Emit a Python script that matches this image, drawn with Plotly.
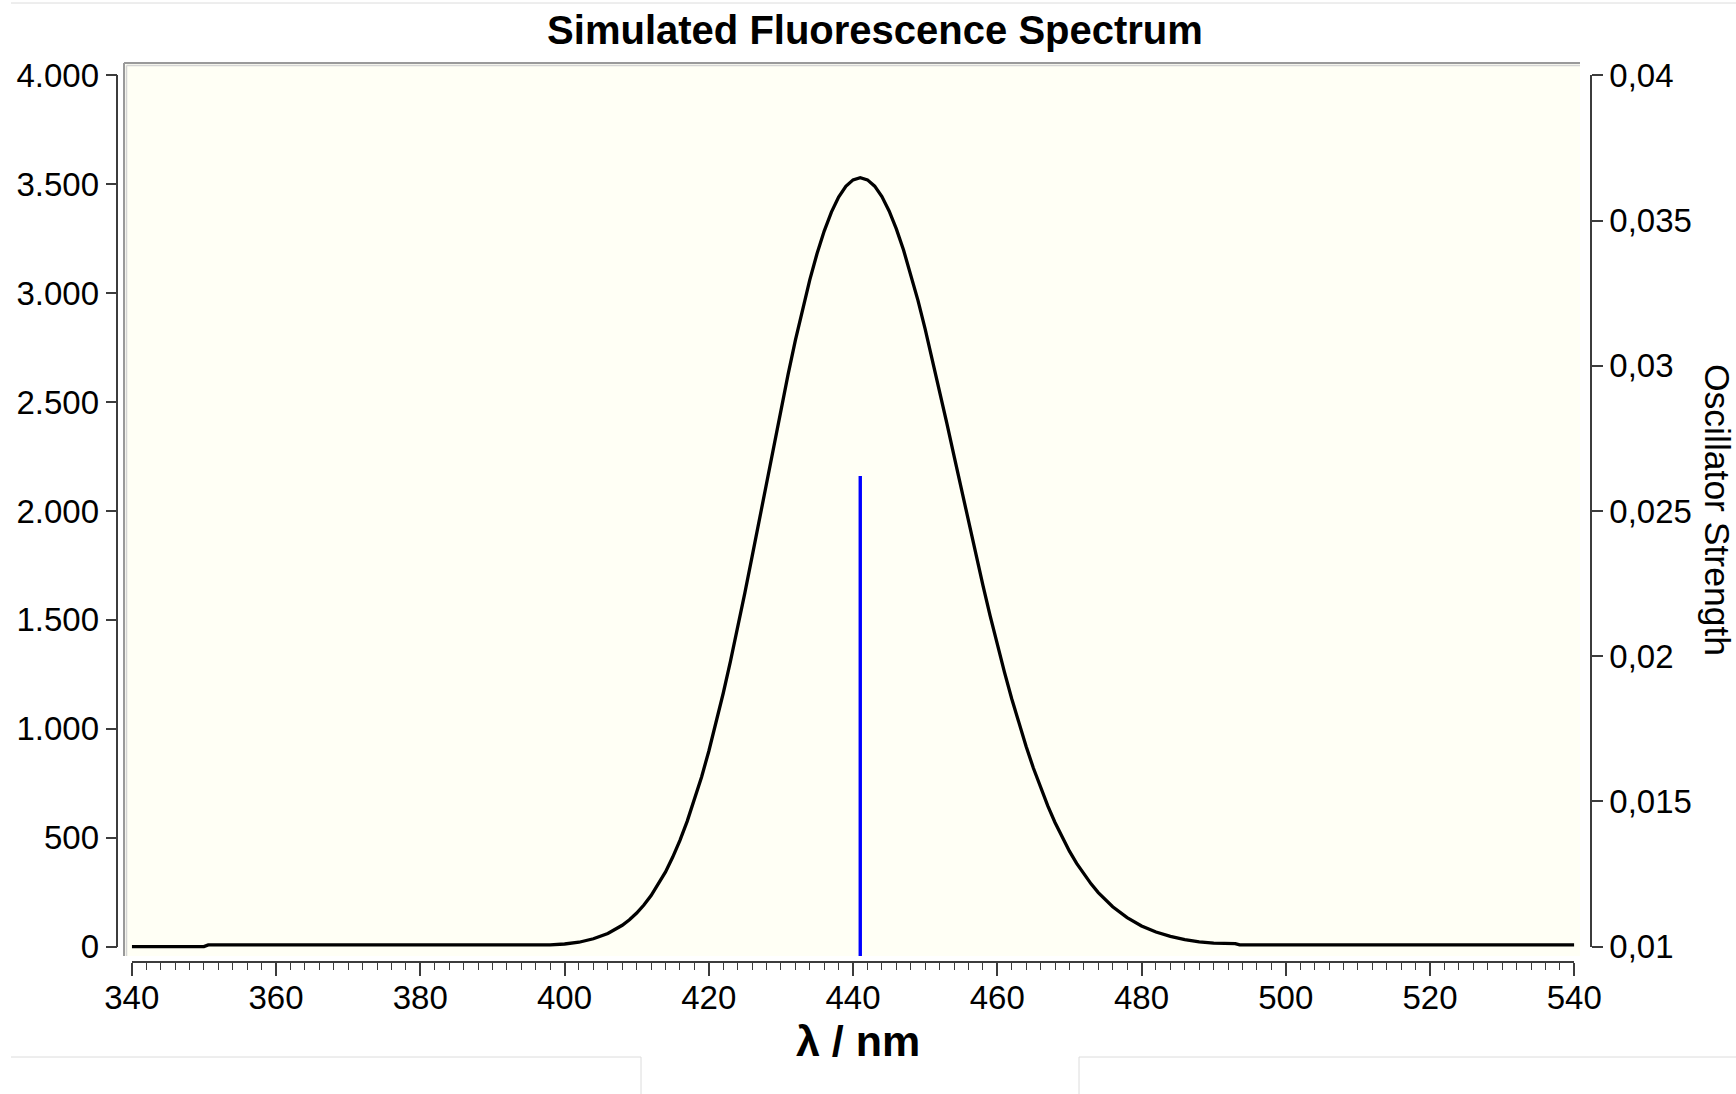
import plotly.graph_objects as go

# ---- spectrum data -------------------------------------------------------
wavelength_nm = [340, 350, 350.6, 396, 398, 400, 402, 404, 406, 408, 409, 410, 411, 412,
                 413, 414, 415, 416, 417, 418, 419, 420, 421, 422, 423, 424, 425, 426,
                 427, 428, 429, 430, 431, 432, 433, 434, 435, 436, 437, 438, 439, 440,
                 441, 442, 443, 444, 445, 446, 447, 448, 449, 450, 451, 452, 453, 454,
                 455, 456, 457, 458, 459, 460, 461, 462, 463, 464, 465, 466, 467, 468,
                 469, 470, 471, 472, 473, 474, 475, 476, 478, 480, 482, 484, 486, 488,
                 490, 492, 493, 493.6, 540]
intensity = [0, 0, 8, 8, 8, 12, 20, 36, 60, 98, 123, 154, 191, 234,
             285, 343, 411, 488, 575, 672, 779, 897, 1025, 1163, 1309, 1463, 1624, 1790,
             1959, 2130, 2299, 2466, 2628, 2783, 2928, 3061, 3181, 3285, 3372, 3441, 3490, 3520,
             3530, 3520, 3491, 3443, 3377, 3295, 3198, 3088, 2967, 2835, 2696, 2552, 2403, 2253,
             2101, 1951, 1804, 1659, 1520, 1386, 1259, 1138, 1025, 919, 820, 729, 646, 570,
             501, 438, 382, 332, 288, 248, 213, 183, 133, 95, 67, 47, 32, 22,
             16, 14, 14, 8, 8]

# excitation sticks (wavelength, oscillator strength)
stick_nm = [441]
stick_f = [0.0262]

# ---- axis ticks ----------------------------------------------------------
x_ticks = [340, 360, 380, 400, 420, 440, 460, 480, 500, 520, 540]
y_ticks = [0, 500, 1000, 1500, 2000, 2500, 3000, 3500, 4000]
y_tick_labels = ["0", "500", "1.000", "1.500", "2.000", "2.500", "3.000", "3.500", "4.000"]
f_ticks = [0.01, 0.015, 0.02, 0.025, 0.03, 0.035, 0.04]
f_tick_labels = ["0,01", "0,015", "0,02", "0,025", "0,03", "0,035", "0,04"]

# ---- page geometry (pixels) ---------------------------------------------
W, H = 1736, 1094
X_LEFT, X_RIGHT = 131.8, 1574.3        # 340 nm and 540 nm
Y_TOP, Y_BOT = 75.3, 946.6             # top and bottom tick of the y axes
FRAME_L, FRAME_R, FRAME_T, FRAME_B = 124, 1580, 63, 956
AX_LEFT_X, AX_RIGHT_X, AX_BOTTOM_Y = 117.4, 1591, 962

def fx(p):
    return p / W

def fy(p):
    return 1 - p / H

def frame_range(vmin, vmax):
    """Range of a hidden axis spanning the whole frame, aligned with the visible ticks."""
    per_px = (vmax - vmin) / (Y_BOT - Y_TOP)
    return [vmin - (FRAME_B - Y_BOT) * per_px, vmax + (Y_TOP - FRAME_T) * per_px]

AX = "#3c3c3c"
FONT = "Arial, Liberation Sans, sans-serif"
tickfont = dict(family=FONT, size=33, color="black")

stick_x, stick_y = [], []
for wl, f in zip(stick_nm, stick_f):
    stick_x += [wl, wl, None]
    stick_y += [0, f, None]

fig = go.Figure()
# placeholders so both visible y axes are drawn
fig.add_trace(go.Scatter(x=[], y=[], xaxis="x", yaxis="y", showlegend=False, hoverinfo="skip"))
fig.add_trace(go.Scatter(x=[], y=[], xaxis="x", yaxis="y2", showlegend=False, hoverinfo="skip"))
# spectrum and sticks on frame-sized axes so nothing is cut at the tick ends
fig.add_trace(go.Scatter(x=wavelength_nm, y=intensity, xaxis="x", yaxis="y3", mode="lines",
                         line=dict(color="black", width=3.3, shape="linear"),
                         showlegend=False))
fig.add_trace(go.Scatter(x=stick_x, y=stick_y, xaxis="x", yaxis="y4", mode="lines",
                         line=dict(color="#0000FF", width=3.4), showlegend=False))

ydom = [fy(Y_BOT), fy(Y_TOP)]
frame_dom = [fy(FRAME_B), fy(FRAME_T)]

fig.update_layout(
    width=W, height=H, autosize=False,
    margin=dict(l=0, r=0, t=0, b=0, pad=0, autoexpand=False),
    paper_bgcolor="white", plot_bgcolor="rgba(0,0,0,0)",
    showlegend=False,
    separators=",.",
    title=dict(text="<b>Simulated Fluorescence Spectrum</b>", x=fx(875), y=fy(30),
               xanchor="center", yanchor="middle", automargin=False,
               font=dict(family=FONT, size=40, color="black")),
    xaxis=dict(domain=[fx(X_LEFT), fx(X_RIGHT)], range=[340, 540], anchor="free",
               position=fy(AX_BOTTOM_Y), showline=True, linecolor=AX, linewidth=1.5,
               ticks="outside", ticklen=13, tickwidth=1.5, tickcolor=AX,
               tickmode="array", tickvals=x_ticks, tickfont=tickfont, ticklabelstandoff=-6,
               minor=dict(tickmode="linear", tick0=340, dtick=2, ticks="outside",
                          ticklen=7, tickwidth=1.3, tickcolor=AX, showgrid=False),
               showgrid=False, zeroline=False, automargin=False),
    yaxis=dict(domain=ydom, range=[0, 4000], anchor="free", position=fx(AX_LEFT_X),
               side="left", showline=True, linecolor=AX, linewidth=1.5,
               ticks="outside", ticklen=11, tickwidth=1.5, tickcolor=AX,
               tickmode="array", tickvals=y_ticks, ticktext=y_tick_labels,
               tickfont=tickfont, showgrid=False, zeroline=False, automargin=False),
    yaxis2=dict(overlaying="y", range=[0.01, 0.04], anchor="free", position=fx(AX_RIGHT_X),
                side="right", showline=True, linecolor=AX, linewidth=1.5,
                ticks="outside", ticklen=11, tickwidth=1.5, tickcolor=AX,
                tickmode="array", tickvals=f_ticks, ticktext=f_tick_labels,
                tickfont=tickfont, showgrid=False, zeroline=False, automargin=False),
    yaxis3=dict(domain=frame_dom, range=frame_range(0, 4000), anchor="free",
                position=fx(X_LEFT), visible=False, showgrid=False, zeroline=False,
                automargin=False),
    yaxis4=dict(overlaying="y3", range=frame_range(0.01, 0.04), anchor="free",
                position=fx(X_LEFT), visible=False, showgrid=False, zeroline=False,
                automargin=False),
)

shapes = [
    # plot frame
    dict(type="rect", xref="paper", yref="paper", layer="below",
         x0=fx(FRAME_L), x1=fx(FRAME_R), y0=fy(FRAME_B), y1=fy(FRAME_T),
         fillcolor="#FFFFF5", line=dict(width=0)),
    dict(type="line", xref="paper", yref="paper", layer="below",
         x0=fx(FRAME_L), x1=fx(FRAME_L), y0=fy(FRAME_B), y1=fy(FRAME_T),
         line=dict(color="#9a9a9a", width=2)),
    dict(type="line", xref="paper", yref="paper", layer="below",
         x0=fx(FRAME_L + 2.5), x1=fx(FRAME_L + 2.5), y0=fy(FRAME_B), y1=fy(FRAME_T + 2.5),
         line=dict(color="#d4d4d4", width=1.5)),
    dict(type="line", xref="paper", yref="paper", layer="below",
         x0=fx(FRAME_L), x1=fx(FRAME_R), y0=fy(FRAME_T), y1=fy(FRAME_T),
         line=dict(color="#9a9a9a", width=2)),
    dict(type="line", xref="paper", yref="paper", layer="below",
         x0=fx(FRAME_L + 2.5), x1=fx(FRAME_R), y0=fy(FRAME_T + 2.5), y1=fy(FRAME_T + 2.5),
         line=dict(color="#d4d4d4", width=1.5)),
    # page rules around the figure
    dict(type="line", xref="paper", yref="paper", x0=fx(11), x1=1, y0=fy(3), y1=fy(3),
         line=dict(color="#dcdcdc", width=1)),
    dict(type="line", xref="paper", yref="paper", x0=fx(11), x1=fx(641), y0=fy(1057), y1=fy(1057),
         line=dict(color="#dcdcdc", width=1)),
    dict(type="line", xref="paper", yref="paper", x0=fx(641), x1=fx(641), y0=fy(1057), y1=0,
         line=dict(color="#dcdcdc", width=1)),
    dict(type="line", xref="paper", yref="paper", x0=fx(1079), x1=1, y0=fy(1057), y1=fy(1057),
         line=dict(color="#dcdcdc", width=1)),
    dict(type="line", xref="paper", yref="paper", x0=fx(1079), x1=fx(1079), y0=fy(1057), y1=0,
         line=dict(color="#dcdcdc", width=1)),
]
fig.update_layout(shapes=shapes)

fig.add_annotation(text="<b>λ / nm</b>", xref="paper", yref="paper", x=fx(858), y=fy(1041),
                   xanchor="center", yanchor="middle", showarrow=False,
                   font=dict(family=FONT, size=43, color="black"))
fig.add_annotation(text="Oscillator Strength", xref="paper", yref="paper", x=fx(1717), y=fy(510),
                   xanchor="center", yanchor="middle", showarrow=False, textangle=90,
                   font=dict(family=FONT, size=35.5, color="black"))

fig.write_html("out.html", config={"displayModeBar": False})
